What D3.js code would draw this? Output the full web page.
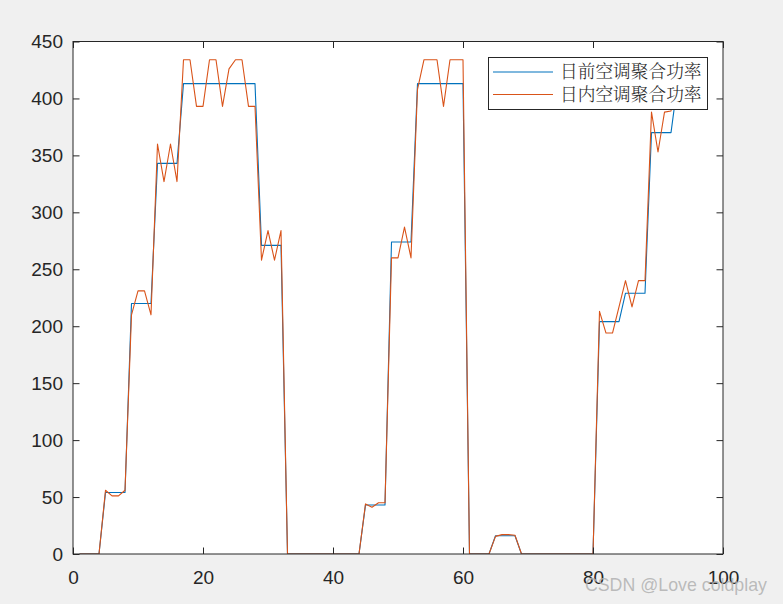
<!DOCTYPE html>
<html>
<head>
<meta charset="utf-8">
<title>空调聚合功率</title>
<script src="https://d3js.org/d3.v7.min.js"></script>
<style>
  body { margin: 0; background: #f0f0f0; }
  svg { display: block; }
  .tick text { font-family: "Liberation Sans", Arial, Helvetica, sans-serif; font-size: 19px; fill: #262626; }
  .tick line { stroke: #262626; }
</style>
</head>
<body>
<svg id="chart"></svg>
<script>
// time index 1..96 (15 min steps)
var steps = d3.range(1, 97);

// 日前 (day-ahead) aggregated AC power
var dayAhead = [
  0, 0, 0, 0, 54, 54, 54, 54, 220, 220, 220, 220,
  343, 343, 343, 343, 413, 413, 413, 413, 413, 413, 413, 413,
  413, 413, 413, 413, 271, 271, 271, 271, 0, 0, 0, 0,
  0, 0, 0, 0, 0, 0, 0, 0, 43, 43, 43, 43,
  274, 274, 274, 274, 413, 413, 413, 413, 413, 413, 413, 413,
  0, 0, 0, 0, 16, 16, 16, 16, 0, 0, 0, 0,
  0, 0, 0, 0, 0, 0, 0, 0, 204, 204, 204, 204,
  229, 229, 229, 229, 370, 370, 370, 370, 413, 413, 413, 413
];

// 日内 (intraday) aggregated AC power
var intraDay = [
  0, 0, 0, 0, 56, 51, 51, 56, 210, 231, 231, 210,
  360, 327, 360, 327, 434, 434, 393, 393, 434, 434, 393, 426,
  434, 434, 393, 393, 258, 284, 258, 284, 0, 0, 0, 0,
  0, 0, 0, 0, 0, 0, 0, 0, 44, 41, 45, 45,
  260, 260, 287, 260, 408, 434, 434, 434, 393, 434, 434, 434,
  0, 0, 0, 0, 15.5, 17, 17, 16.5, 0, 0, 0, 0,
  0, 0, 0, 0, 0, 0, 0, 0, 213, 194, 194, 217,
  240, 217, 240, 240, 388, 353, 388, 389, 434, 434, 434, 434
];

var seriesNames = ["日前空调聚合功率", "日内空调聚合功率"];
var seriesColors = ["#0072BD", "#D95319"];
var xTicks = [0, 20, 40, 60, 80, 100];
var yTicks = [0, 50, 100, 150, 200, 250, 300, 350, 400, 450];

var W = 783, H = 604;
var pL = 73, pT = 41.5, pR = 723, pB = 554;

var svg = d3.select("#chart").attr("width", W).attr("height", H);

var x = d3.scaleLinear().domain([0, 100]).range([pL, pR]);
var y = d3.scaleLinear().domain([0, 450]).range([pB, pT]);

// axes background
svg.append("rect")
  .attr("x", pL).attr("y", pT)
  .attr("width", pR - pL).attr("height", pB - pT)
  .attr("fill", "#fff");

// clip for the data lines
svg.append("clipPath").attr("id", "plotClip")
  .append("rect")
  .attr("x", pL).attr("y", pT)
  .attr("width", pR - pL).attr("height", pB - pT);

var line = d3.line()
  .x(function(d, i) { return x(steps[i]); })
  .y(function(d) { return y(d); });

var plot = svg.append("g").attr("clip-path", "url(#plotClip)");
[dayAhead, intraDay].forEach(function(vals, k) {
  plot.append("path")
    .datum(vals)
    .attr("fill", "none")
    .attr("stroke", seriesColors[k])
    .attr("stroke-width", 1.1)
    .attr("stroke-linejoin", "round")
    .attr("d", line);
});

// ticks on all four sides, pointing inward
var tk = 6.5;
svg.append("g").attr("transform", "translate(0," + pB + ")")
  .call(d3.axisBottom(x).tickValues(xTicks).tickSizeInner(-tk).tickSizeOuter(0).tickPadding(16.5))
  .call(function(g) { g.select(".domain").remove(); });
svg.append("g").attr("transform", "translate(" + pL + ",0)")
  .call(d3.axisLeft(y).tickValues(yTicks).tickSizeInner(-tk).tickSizeOuter(0).tickPadding(10))
  .call(function(g) { g.select(".domain").remove(); });
svg.append("g").attr("transform", "translate(0," + pT + ")")
  .call(d3.axisTop(x).tickValues(xTicks).tickSizeInner(-tk).tickSizeOuter(0).tickFormat(""))
  .call(function(g) { g.select(".domain").remove(); });
svg.append("g").attr("transform", "translate(" + pR + ",0)")
  .call(d3.axisRight(y).tickValues(yTicks).tickSizeInner(-tk).tickSizeOuter(0).tickFormat(""))
  .call(function(g) { g.select(".domain").remove(); });

// axes box
svg.append("rect")
  .attr("x", pL).attr("y", pT)
  .attr("width", pR - pL).attr("height", pB - pT)
  .attr("fill", "none").attr("stroke", "#262626").attr("stroke-width", 1);

// legend
var lg = svg.append("g").attr("transform", "translate(488.5,57.5)");
lg.append("rect")
  .attr("width", 219).attr("height", 52)
  .attr("fill", "#fff").attr("stroke", "#262626").attr("stroke-width", 1);
seriesNames.forEach(function(name, k) {
  var cy = 14.5 + k * 22.5;
  lg.append("line")
    .attr("x1", 4.5).attr("x2", 64.5).attr("y1", cy).attr("y2", cy)
    .attr("stroke", seriesColors[k]).attr("stroke-width", 1.1);
  lg.append("text")
    .attr("x", 71.5).attr("y", cy).attr("dy", "0.36em")
    .attr("font-family", "'Noto Serif CJK SC', 'Noto Sans CJK SC', sans-serif")
    .attr("font-weight", 300)
    .attr("font-size", 17.7)
    .attr("fill", "#262626")
    .text(name);
});

// watermark
svg.append("text")
  .attr("x", 767).attr("y", 591)
  .attr("text-anchor", "end")
  .attr("font-family", "'Liberation Sans', Arial, sans-serif")
  .attr("font-size", 17.8)
  .attr("fill", "#b0b0b0")
  .attr("fill-opacity", 0.85)
  .text("CSDN @Love coldplay");
</script>
</body>
</html>
